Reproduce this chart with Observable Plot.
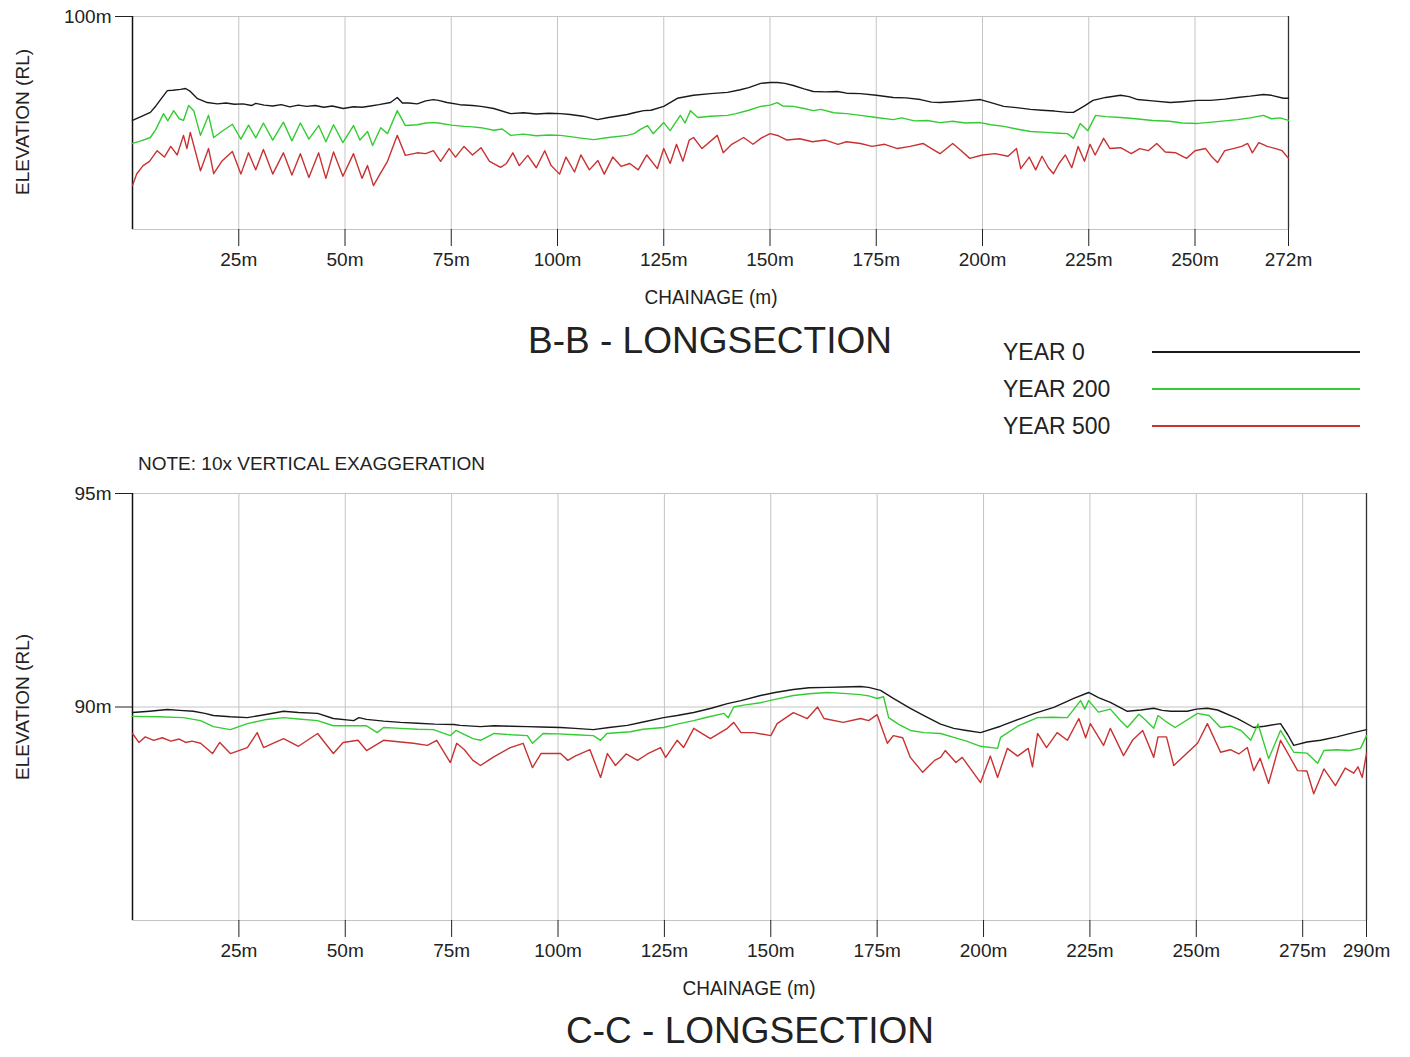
<!DOCTYPE html>
<html><head><meta charset="utf-8">
<script src="https://cdn.jsdelivr.net/npm/d3@7"></script>
<script src="https://cdn.jsdelivr.net/npm/@observablehq/plot@0.6"></script>
<style>
body{margin:0;background:#fff;font-family:Arial,"Liberation Sans",sans-serif;}
#page{position:relative;width:1410px;height:1057px;overflow:hidden;background:#fff}
.t{position:absolute;white-space:nowrap;color:#222;line-height:1}
.c{transform:translate(-50%,-50%)}
.cn{transform:translate(-50%,-50%) scaleX(0.95)}
.l{transform:translate(0,-50%)}
.r{transform:translate(-50%,-50%) rotate(-90deg)}
.ln{position:absolute;height:2px}
.chart{position:absolute;left:0}
</style></head>
<body><div id="page"></div>
<script>
// ---- data: [chainage (m), elevation (m RL)] ----
const bbYear0 = [[0,97.56],[2,97.65],[4.2,97.75],[5.5,97.9],[6.6,98.05],[8.2,98.26],[9.5,98.27],[11.3,98.29],[12.5,98.31],[13.5,98.25],[15.3,98.07],[17.6,97.98],[20,97.95],[22,97.97],[24,97.94],[26,97.95],[28,97.91],[29,97.96],[31,97.92],[33,97.90],[35,97.93],[37,97.88],[39,97.92],[41,97.89],[43,97.91],[45,97.87],[47,97.9],[49.6,97.84],[52,97.88],[54,97.87],[56,97.9],[58,97.93],[60.7,97.98],[62.3,98.10],[63.5,97.97],[65,97.97],[67,97.95],[69,98.02],[70.8,98.05],[72,98.03],[74,97.98],[77,97.93],[80,97.91],[82,97.89],[85,97.84],[89,97.72],[92,97.74],[95,97.71],[98,97.73],[100.7,97.72],[103,97.7],[106,97.66],[109.4,97.58],[112,97.63],[116.4,97.70],[118,97.74],[120.3,97.79],[122,97.8],[125,97.89],[128.2,98.08],[132,98.15],[136,98.19],[140,98.22],[143,98.28],[145,98.33],[147.8,98.43],[150,98.45],[151.7,98.45],[153.5,98.43],[155.5,98.38],[158,98.3],[160.2,98.24],[163,98.23],[165.9,98.24],[168,98.2],[171.3,98.19],[175,98.15],[179,98.10],[182,98.09],[185.4,98.05],[188,97.99],[190,97.98],[193,98.0],[196,98.02],[199.5,98.05],[202,97.98],[205,97.89],[208,97.86],[211.3,97.82],[214,97.8],[217,97.78],[220,97.75],[221.4,97.75],[224,97.9],[226,98.03],[229,98.1],[232.5,98.15],[234.5,98.12],[236.5,98.05],[240,98.02],[244.2,97.98],[247,98.0],[250.6,98.03],[253.6,98.03],[257,98.06],[260,98.1],[263,98.13],[266.1,98.17],[268,98.15],[270.8,98.08],[272,98.08]];
const bbYear200 = [[0,97.02],[2,97.08],[4.2,97.16],[5.5,97.35],[7.3,97.72],[8.3,97.55],[9.7,97.79],[11,97.6],[12,97.56],[13.2,97.91],[14.4,97.79],[16,97.21],[17.9,97.68],[19.1,97.16],[21,97.3],[23.5,97.47],[25.5,97.12],[27.3,97.45],[29,97.15],[30.8,97.5],[33,97.1],[35.5,97.52],[37.5,97.08],[39.5,97.5],[41.5,97.12],[43.8,97.44],[45.5,97.06],[47.3,97.46],[49.5,97.04],[52,97.44],[53.5,97.1],[55.3,97.3],[56.5,96.97],[58.4,97.39],[60,97.25],[62.3,97.79],[64.2,97.44],[67,97.46],[69,97.5],[70.8,97.51],[72,97.5],[75,97.45],[78,97.42],[80,97.41],[82,97.39],[85,97.33],[87,97.36],[89,97.21],[92,97.24],[95,97.2],[98,97.22],[100.7,97.21],[103,97.18],[106,97.14],[108.5,97.11],[112,97.16],[116.4,97.21],[118,97.25],[119.5,97.35],[121.2,97.44],[122.5,97.25],[125,97.51],[126.5,97.32],[128.9,97.68],[130,97.5],[131.3,97.79],[133,97.63],[136,97.66],[140,97.68],[142,97.72],[145,97.8],[147.8,97.89],[150,97.92],[151.7,97.98],[153,97.9],[155.5,97.89],[158,97.84],[160.2,97.79],[162,97.82],[165,97.74],[168,97.72],[171.3,97.68],[175,97.63],[179,97.58],[181,97.62],[184,97.55],[187,97.56],[190,97.51],[193,97.54],[196,97.5],[199.5,97.51],[202,97.46],[205,97.42],[208,97.36],[211.3,97.30],[215,97.28],[218,97.26],[220,97.25],[221.4,97.14],[223,97.49],[224.8,97.32],[226.6,97.68],[229,97.65],[232.5,97.63],[236,97.6],[240,97.56],[244,97.54],[247,97.5],[250.6,97.49],[254,97.52],[257,97.55],[260,97.58],[263,97.62],[266.1,97.68],[268,97.6],[270,97.62],[272,97.56]];
const bbYear500 = [[0,96.03],[1,96.31],[2.5,96.5],[4,96.6],[5.8,96.85],[7.5,96.7],[9,96.95],[10.5,96.75],[12,97.21],[12.8,96.9],[13.6,97.28],[16,96.38],[17.9,96.9],[19.1,96.31],[21,96.6],[23.5,96.83],[25.5,96.3],[27.3,96.8],[29,96.4],[30.8,96.88],[33,96.3],[35.5,96.8],[37.5,96.28],[39.5,96.78],[41.5,96.22],[43.8,96.8],[45.5,96.2],[47.3,96.82],[49.5,96.25],[52,96.78],[54,96.2],[55.3,96.5],[56.7,96.03],[58.3,96.31],[60,96.6],[62.3,97.21],[64.2,96.74],[67,96.8],[69,96.78],[70.8,96.85],[72.5,96.6],[74.5,96.9],[76,96.7],[78,96.95],[80,96.75],[82,96.92],[84,96.6],[86.6,96.46],[88,96.55],[89.5,96.8],[91,96.5],[93,96.74],[95,96.45],[97,96.85],[98.5,96.5],[100.5,96.3],[102,96.7],[104,96.35],[105.5,96.75],[107.5,96.4],[109.5,96.62],[111,96.3],[113,96.7],[115,96.48],[117,96.55],[119,96.4],[121,96.75],[123.5,96.43],[125,96.9],[126.5,96.55],[128,97.0],[129.5,96.6],[131,97.1],[132,97.16],[134,96.9],[137.6,97.21],[139,96.8],[141,97.0],[143.8,97.16],[146,97.0],[148,97.15],[150,97.25],[152,97.2],[154,97.1],[157,97.13],[160,97.06],[163,97.1],[166,97.0],[168,97.06],[171.3,97.02],[174,96.95],[177,97.0],[180,96.9],[183,96.95],[186,97.02],[188,96.9],[190,96.78],[193,97.02],[195,96.85],[197,96.67],[200,96.75],[203,96.78],[206,96.72],[208,96.9],[209,96.43],[211,96.7],[212.5,96.4],[214,96.72],[215.5,96.45],[216.7,96.31],[218,96.55],[219.5,96.75],[221,96.45],[222.5,96.95],[224,96.6],[225.3,97.0],[226.5,96.75],[228.5,97.14],[230,96.9],[232.5,96.92],[235,96.78],[237,96.9],[239,96.85],[241,97.02],[243,96.82],[245.5,96.8],[248,96.67],[250,96.85],[252.5,96.9],[254,96.7],[255.3,96.57],[257,96.85],[259,96.9],[261,96.95],[262.4,97.02],[263.5,96.8],[265,97.04],[267,96.95],[269,96.9],[270.5,96.85],[272,96.67]];

const ccYear0 = [[0,89.87],[4,89.9],[8.2,89.94],[11,89.92],[14.3,89.9],[17,89.85],[19,89.80],[23,89.77],[27,89.75],[31,89.82],[35.5,89.90],[39,89.87],[43.5,89.85],[47.2,89.73],[52,89.68],[53.2,89.75],[55,89.71],[59,89.67],[63,89.64],[67,89.62],[71,89.6],[75.5,89.59],[77,89.57],[81.8,89.54],[85,89.56],[89,89.55],[92.8,89.54],[96,89.53],[100.6,89.52],[104,89.5],[108.3,89.47],[112,89.52],[116.3,89.57],[120,89.65],[124.8,89.75],[128,89.8],[131.9,89.87],[136,89.97],[139.8,90.08],[143,90.15],[147.6,90.27],[151,90.34],[155.3,90.41],[159,90.45],[163.3,90.46],[167,90.47],[171.1,90.48],[173,90.46],[175.8,90.39],[178.8,90.20],[182.8,89.97],[186,89.8],[189.9,89.6],[193,89.50],[196,89.45],[199.3,89.40],[204,89.55],[208.7,89.73],[212,89.85],[216.5,89.99],[219,90.1],[221.2,90.20],[224.7,90.34],[227,90.22],[229.8,90.11],[233.8,89.90],[237,89.93],[240,89.97],[242,89.92],[244,89.9],[247.9,89.90],[250,89.95],[252.6,89.97],[255,89.93],[259.7,89.73],[263.5,89.52],[266,89.55],[269.8,89.61],[271.5,89.35],[272.9,89.10],[276,89.18],[279.2,89.22],[283,89.3],[287,89.40],[290,89.47]];
const ccYear200 = [[0,89.78],[6,89.77],[12,89.75],[16,89.68],[19,89.54],[23,89.47],[27,89.61],[31,89.7],[35.5,89.75],[39,89.72],[43.5,89.68],[47.2,89.56],[51,89.56],[55,89.56],[57.5,89.40],[59,89.52],[63,89.5],[67,89.48],[70.7,89.47],[74.7,89.33],[76,89.45],[80,89.26],[81.8,89.22],[85,89.38],[89,89.35],[92.8,89.33],[94,89.15],[96.5,89.38],[100,89.37],[104,89.35],[108.3,89.33],[110,89.22],[111.5,89.38],[117,89.42],[120,89.48],[124.8,89.52],[128,89.6],[131.9,89.68],[135,89.76],[139,89.85],[140,89.75],[141.3,90.0],[144,90.05],[147.6,90.10],[151,90.18],[155.3,90.27],[159,90.31],[163.3,90.34],[167,90.32],[171,90.29],[173,90.26],[175,90.20],[176.5,90.24],[177.7,89.75],[180,89.6],[182.8,89.45],[186,89.4],[189.9,89.38],[193,89.29],[196,89.2],[199.3,89.08],[203.3,89.03],[204,89.29],[208,89.55],[212.7,89.75],[216,89.76],[219.7,89.75],[222.8,90.15],[223.8,89.95],[224.7,90.15],[227,89.88],[229.8,89.95],[232,89.7],[233.8,89.52],[236.5,89.83],[238,89.7],[240,89.50],[241,89.8],[243,89.65],[245,89.52],[250.3,89.85],[253,89.8],[255.7,89.52],[258,89.55],[260.5,89.45],[262.8,89.22],[264.5,89.6],[267,88.79],[269.8,89.45],[272.9,88.94],[276,88.92],[278.5,88.68],[280,88.98],[283,89.0],[286,88.98],[288.6,89.03],[290,89.33]];
const ccYear500 = [[0,89.38],[1.5,89.17],[3,89.3],[5,89.22],[7,89.28],[9,89.2],[11,89.25],[12.5,89.17],[14,89.2],[16,89.15],[18.8,88.91],[20.5,89.17],[23,88.91],[27,89.05],[29.3,89.40],[30.8,89.05],[33,89.15],[35.5,89.26],[39,89.08],[43.5,89.38],[47.2,88.91],[49.5,89.17],[53,89.22],[55,88.98],[59,89.22],[63,89.18],[66,89.15],[69.3,89.10],[71.5,89.22],[74.7,88.70],[76.2,89.15],[78,89.0],[80,88.75],[81.8,88.63],[84.7,88.82],[88.8,89.05],[91.8,89.15],[94,88.58],[96,88.91],[100.6,88.91],[102.3,88.75],[104,88.85],[107.5,89.0],[110,88.35],[111.6,88.91],[113.5,88.63],[116,88.9],[118.7,88.75],[121,88.9],[124.1,89.05],[125.3,88.82],[128,89.22],[129.5,89.05],[131.9,89.50],[135.8,89.26],[139.8,89.50],[141.3,89.64],[143,89.4],[146,89.4],[150,89.33],[151.5,89.61],[155.3,89.87],[158.6,89.73],[161,90.0],[162.5,89.73],[167,89.64],[171.1,89.73],[173,89.68],[175,89.82],[177.4,89.15],[178.8,89.33],[181,89.28],[182.8,88.82],[185.7,88.47],[188.5,88.75],[189.9,88.82],[191,88.98],[193.5,88.7],[195,88.82],[199.3,88.23],[201.6,88.85],[203.3,88.35],[205.6,89.03],[208,88.85],[210.5,89.03],[211.5,88.6],[212.7,89.38],[214.8,89.05],[217.3,89.4],[219.7,89.22],[222.4,89.73],[224,89.28],[225.1,89.61],[228.2,89.10],[229.8,89.5],[232.9,88.86],[235,89.22],[237.4,89.45],[240,88.82],[241,89.3],[243,89.3],[244.7,88.63],[250.3,89.15],[252.6,89.61],[255.7,88.94],[258,89.0],[260,88.9],[262,89.05],[263.5,88.51],[265,88.8],[267,88.21],[269.8,89.22],[273.8,88.51],[276,88.5],[277.6,87.97],[280,88.55],[282.7,88.16],[285,88.57],[287,88.45],[288,88.6],[289,88.35],[290,88.91]];

const bbXTicks = [25,50,75,100,125,150,175,200,225,250,272];
const ccXTicks = [25,50,75,100,125,150,175,200,225,250,275,290];
const bbYDomain = [95,100], bbYTicks = [100];
const ccYDomain = [85,95], ccYTicks = [90,95];
const seriesNames = ["YEAR 0","YEAR 200","YEAR 500"];
const seriesColors = ["#1a1a1a","#33cc33","#c83232"];

function section(series, xMax, xTicks, yDomain, yTicks, height, mt, mb, mr) {
  const [d0,d1,d2] = series;
  const line = (d, i) => Plot.line(d, {x: d => d[0], y: d => d[1], stroke: seriesColors[i], strokeWidth: 1.4});
  return Plot.plot({
    width: 1410, height, marginTop: mt, marginBottom: mb, marginLeft: 132, marginRight: mr,
    x: {domain: [0, xMax]}, y: {domain: yDomain},
    style: {fontFamily: "Arial, 'Liberation Sans', sans-serif", fontSize: "19px", color: "#222", background: "white", overflow: "visible"},
    marks: [
      Plot.gridX(xTicks, {stroke: "#c4c4c4", strokeOpacity: 1}),
      Plot.gridY([yDomain[0], ...yTicks, yDomain[1]], {stroke: "#c4c4c4", strokeOpacity: 1}),
      Plot.ruleX([0], {stroke: "#111", strokeWidth: 1.5}),
      Plot.ruleX([xMax], {stroke: "#333", strokeWidth: 1.3}),
      line(d0, 0), line(d1, 1), line(d2, 2),
      Plot.axisX(xTicks, {tickSize: 17, tickPadding: 6, tickFormat: d => d + "m", label: null, fontSize: 19}),
      Plot.axisY(yTicks, {tickSize: 17, tickPadding: 4, tickFormat: d => d + "m", label: null, fontSize: 19})
    ]
  });
}

const page = document.getElementById("page");
const topChart = section([bbYear0, bbYear200, bbYear500], 272, bbXTicks, bbYDomain, bbYTicks, 280, 16, 51, 122);
topChart.classList.add("chart"); topChart.style.top = "0px";
page.appendChild(topChart);
const botChart = section([ccYear0, ccYear200, ccYear500], 290, ccXTicks, ccYDomain, ccYTicks, 500, 23, 50, 44);
botChart.classList.add("chart"); botChart.style.top = "470px";
page.appendChild(botChart);

function txt(s, x, y, size, cls) {
  const d = document.createElement("div");
  d.className = "t " + cls; d.textContent = s;
  d.style.left = x + "px"; d.style.top = y + "px"; d.style.fontSize = size + "px";
  page.appendChild(d);
}
txt("ELEVATION (RL)", 22, 122, 19, "r");
txt("CHAINAGE (m)", 711, 297, 20, "cn");
txt("B-B - LONGSECTION", 710, 340, 37, "c");
txt("NOTE: 10x VERTICAL EXAGGERATION", 138, 463, 19, "l");
txt("ELEVATION (RL)", 22, 707, 19, "r");
txt("CHAINAGE (m)", 749, 988, 20, "cn");
txt("C-C - LONGSECTION", 750, 1030, 37, "c");
const legY = [352, 389, 426];
seriesNames.forEach((n, i) => {
  txt(n, 1003, legY[i], 23, "l");
  const l = document.createElement("div");
  l.className = "ln"; l.style.left = "1152px"; l.style.width = "208px";
  l.style.top = (legY[i] - 1) + "px"; l.style.background = seriesColors[i];
  page.appendChild(l);
});
</script></body></html>
